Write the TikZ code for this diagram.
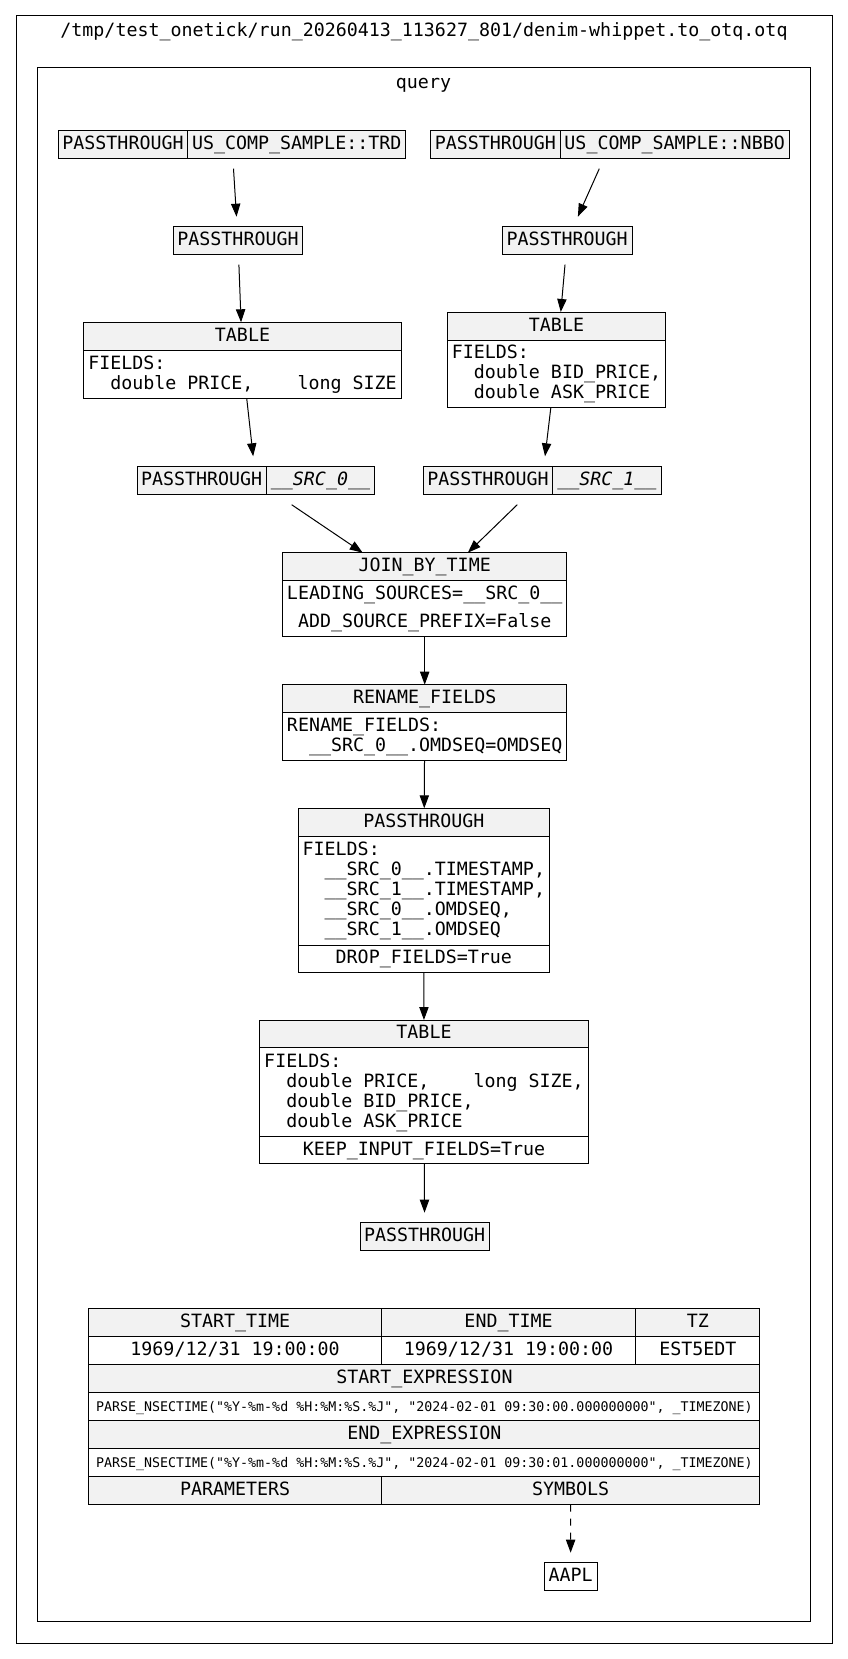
\documentclass[tikz,border=0pt]{standalone}
\usepackage{fontspec}
\newfontfamily\dvm{DejaVu Sans Mono}
\usetikzlibrary{arrows.meta,fit}
\definecolor{hdr}{RGB}{242,242,242}
\newcommand\mainf{\dvm\fontsize{18.3}{20}\selectfont}
\newcommand\smallf{\dvm\fontsize{13.3}{15}\selectfont}
\newcommand\tp{\rule{0pt}{15pt}}
\newcommand\bt{\rule[-5pt]{0pt}{5pt}}
\newcommand\cellat[7]{\node[#2, minimum width={#5-#3}, minimum height={#6-#4}] (#1) at ({(#3+#5)/2},{(#4+#6)/2}) {#7};}
\begin{document}
\begin{tikzpicture}[x=1pt,y=-1pt,
  every node/.style={font=\mainf, inner sep=0pt, outer sep=0pt},
  box/.style={draw, line width=1pt},
  cell/.style={box, text height=15pt, text depth=5pt},
  hcell/.style={cell, fill=hdr},
  wcell/.style={cell, fill=white},
  mcell/.style={box, fill=white, align=left},
  scell/.style={box, fill=white, font=\smallf, text height=11pt, text depth=2pt},
  txt/.style={text height=15pt, text depth=5pt},
  port/.style={outer sep=10pt},
  grp/.style={inner sep=0pt, outer sep=0pt},
  arr/.style={line width=1pt, -{Triangle[length=13pt,width=9.3pt]}},
  dasharr/.style={arr, dash pattern=on 7pt off 7pt}
]
\useasboundingbox (0,0) rectangle (848,1659);
% frames
\cellat{outer}{box}{16}{16}{832}{1643}{}
\node[txt] (title) at (424,31.5) {/tmp/test\_onetick/run\_20260413\_113627\_801/denim-whippet.to\_otq.otq};
\cellat{query}{box}{37}{67.7}{810}{1621}{}
\node[txt] (qlabel) at (423.5,83.3) {query};

% source TRD
\cellat{trdA}{hcell}{58.3}{130.7}{187.7}{158.7}{PASSTHROUGH}
\cellat{trdB}{hcell}{187.7}{130.7}{405.7}{158.7}{US\_COMP\_SAMPLE::TRD}
\node[grp, port, fit=(trdA)(trdB)] (trd) {};
% source NBBO
\cellat{nbA}{hcell}{430.7}{130.7}{560}{158.7}{PASSTHROUGH}
\cellat{nbB}{hcell}{560}{130.7}{789.3}{158.7}{US\_COMP\_SAMPLE::NBBO}
\node[grp, port, fit=(nbA)(nbB)] (nbbo) {};

\cellat{pt1}{hcell, port}{173.3}{226.7}{302.7}{254.7}{PASSTHROUGH}
\cellat{pt2}{hcell, port}{502.3}{226.7}{632}{254.7}{PASSTHROUGH}

% TABLE left
\cellat{t1h}{hcell}{83.7}{322.3}{401.3}{350.3}{TABLE}
\cellat{t1b}{mcell}{83.7}{350.3}{401.3}{398.3}{\tp FIELDS:\\\phantom{xx}double PRICE,\phantom{xxxx}long SIZE\bt}
\node[grp, fit=(t1h)(t1b)] (t1) {};
% TABLE right
\cellat{t2h}{hcell}{447.7}{312}{665.3}{340}{TABLE}
\cellat{t2b}{mcell}{447.7}{340}{665.3}{407.7}{\tp FIELDS:\\\phantom{xx}double BID\_PRICE,\\\phantom{xx}double ASK\_PRICE\bt}
\node[grp, fit=(t2h)(t2b)] (t2) {};

% SRC nodes
\cellat{s0A}{hcell}{137}{466.3}{266.3}{494.7}{PASSTHROUGH}
\cellat{s0B}{hcell}{266.3}{466.3}{374.7}{494.7}{\textit{\_\_SRC\_0\_\_}}
\node[grp, port, fit=(s0A)(s0B)] (s0) {};
\cellat{s1A}{hcell}{423.3}{466.3}{552.7}{494.7}{PASSTHROUGH}
\cellat{s1B}{hcell}{552.7}{466.3}{661}{494.7}{\textit{\_\_SRC\_1\_\_}}
\node[grp, port, fit=(s1A)(s1B)] (s1) {};

% JOIN_BY_TIME
\cellat{jh}{hcell}{282.7}{552.7}{566.7}{580.7}{JOIN\_BY\_TIME}
\cellat{jb}{box, fill=white}{282.7}{580.7}{566.7}{636.7}{}
\node[txt] (j1) at (424.7,594.7) {LEADING\_SOURCES=\_\_SRC\_0\_\_};
\node[txt] (j2) at (424.7,622.7) {ADD\_SOURCE\_PREFIX=False};
\node[grp, fit=(jh)(jb)] (join) {};

% RENAME_FIELDS
\cellat{rh}{hcell}{282.7}{684.7}{566.7}{712.7}{RENAME\_FIELDS}
\cellat{rb}{mcell}{282.7}{712.7}{566.7}{760.3}{\tp RENAME\_FIELDS:\\\phantom{xx}\_\_SRC\_0\_\_.OMDSEQ=OMDSEQ\bt}
\node[grp, fit=(rh)(rb)] (ren) {};

% PASSTHROUGH drop
\cellat{ph}{hcell}{298.7}{808.3}{549}{836.7}{PASSTHROUGH}
\cellat{pb}{mcell}{298.7}{836.7}{549}{945}{\tp FIELDS:\\\phantom{xx}\_\_SRC\_0\_\_.TIMESTAMP,\\\phantom{xx}\_\_SRC\_1\_\_.TIMESTAMP,\\\phantom{xx}\_\_SRC\_0\_\_.OMDSEQ,\\\phantom{xx}\_\_SRC\_1\_\_.OMDSEQ\bt}
\cellat{pf}{wcell}{298.7}{945}{549}{972.3}{DROP\_FIELDS=True}
\node[grp, fit=(ph)(pf)] (pdrop) {};

% TABLE final
\cellat{t3h}{hcell}{259.3}{1020}{588.7}{1047.7}{TABLE}
\cellat{t3b}{mcell}{259.3}{1047.7}{588.7}{1136.7}{\tp FIELDS:\\\phantom{xx}double PRICE,\phantom{xxxx}long SIZE,\\\phantom{xx}double BID\_PRICE,\\\phantom{xx}double ASK\_PRICE\bt}
\cellat{t3f}{wcell}{259.3}{1136.7}{588.7}{1163.7}{KEEP\_INPUT\_FIELDS=True}
\node[grp, fit=(t3h)(t3f)] (t3) {};

\cellat{ptf}{hcell, port}{360}{1222.7}{489.3}{1250.7}{PASSTHROUGH}

% bottom table
\cellat{b00}{hcell}{88.9}{1308.7}{381.3}{1336.7}{START\_TIME}
\cellat{b01}{hcell}{381.3}{1308.7}{635.8}{1336.7}{END\_TIME}
\cellat{b02}{hcell}{635.8}{1308.7}{759.9}{1336.7}{TZ}
\cellat{b10}{wcell}{88.9}{1336.7}{381.3}{1364.7}{1969/12/31 19:00:00}
\cellat{b11}{wcell}{381.3}{1336.7}{635.8}{1364.7}{1969/12/31 19:00:00}
\cellat{b12}{wcell}{635.8}{1336.7}{759.9}{1364.7}{EST5EDT}
\cellat{b2}{hcell}{88.9}{1364.7}{759.9}{1392.7}{START\_EXPRESSION}
\cellat{b3}{scell}{88.9}{1392.7}{759.9}{1420.7}{PARSE\_NSECTIME("\%Y-\%m-\%d \%H:\%M:\%S.\%J", "2024-02-01 09:30:00.000000000", \_TIMEZONE)}
\cellat{b4}{hcell}{88.9}{1420.7}{759.9}{1448.7}{END\_EXPRESSION}
\cellat{b5}{scell}{88.9}{1448.7}{759.9}{1476.7}{PARSE\_NSECTIME("\%Y-\%m-\%d \%H:\%M:\%S.\%J", "2024-02-01 09:30:01.000000000", \_TIMEZONE)}
\cellat{b60}{hcell}{88.9}{1476.7}{381.3}{1504.7}{PARAMETERS}
\cellat{b61}{hcell}{381.3}{1476.7}{759.9}{1504.7}{SYMBOLS}
\cellat{aapl}{wcell, port}{544.2}{1562.7}{597.1}{1590.7}{AAPL}

% connectors
\draw[arr] (trd) -- (pt1);
\draw[arr] (pt1) -- (t1);
\draw[arr] (t1) -- (s0);
\draw[arr] (nbbo) -- (pt2);
\draw[arr] (pt2) -- (t2);
\draw[arr] (t2) -- (s1);
\draw[arr] (s0) -- (join);
\draw[arr] (s1) -- (join);
\draw[arr] (join) -- (ren);
\draw[arr] (ren) -- (pdrop);
\draw[arr] (pdrop) -- (t3);
\draw[arr] (t3) -- (ptf);
\draw[dasharr] (b61) -- (aapl);
\end{tikzpicture}
\end{document}
